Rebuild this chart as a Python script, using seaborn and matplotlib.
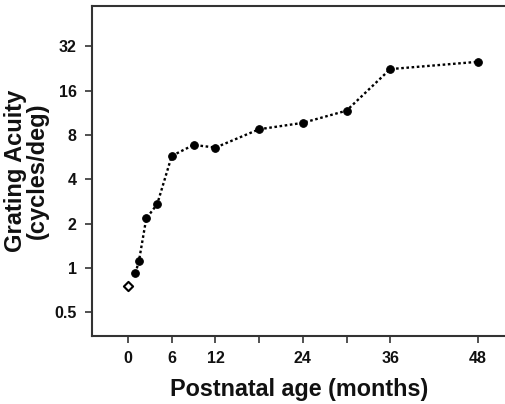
import matplotlib
matplotlib.use("Agg")
import matplotlib.pyplot as plt
import seaborn as sns
import pandas as pd
from matplotlib.ticker import FixedLocator, FixedFormatter, NullLocator

sns.set_theme(style="ticks")
plt.rcParams['font.family'] = ['Liberation Sans', 'DejaVu Sans']

# data
age_months = [1, 1.5, 2.5, 4, 6, 9, 12, 18, 24, 30, 36, 48]
acuity = [0.92, 1.12, 2.17, 2.71, 5.77, 6.85, 6.57, 8.75, 9.67, 11.7, 22.4, 25.1]
newborn_age = [0]
newborn_acuity = [0.75]
x_ticks = [0, 6, 12, 18, 24, 30, 36, 48]
x_tick_labels = ["0", "6", "12", "", "24", "", "36", "48"]
y_ticks = [0.5, 1, 2, 4, 8, 16, 32]
y_tick_labels = ["0.5", "1", "2", "4", "8", "16", "32"]

df = pd.DataFrame({"age": age_months, "acuity": acuity})
df0 = pd.DataFrame({"age": newborn_age, "acuity": newborn_acuity})

fig = plt.figure(figsize=(5.06, 4.04), dpi=100)
ax = fig.add_axes([0.182, 0.168, 0.818, 0.817])

sns.lineplot(data=df, x="age", y="acuity", ax=ax, color="black",
             linestyle=(0, (1.1, 1.1)), linewidth=1.7, marker="o",
             markersize=5.5, markeredgecolor="black", markerfacecolor="black")
sns.scatterplot(data=df0, x="age", y="acuity", ax=ax, marker="D", s=22,
                facecolor="white", edgecolor="black", linewidth=1.5, zorder=5)

ax.set_yscale("log", base=2)
ax.set_xlim(-4.94, 51.9)
ax.set_ylim(0.345, 60)
ax.yaxis.set_major_locator(FixedLocator(y_ticks))
ax.yaxis.set_major_formatter(FixedFormatter(y_tick_labels))
ax.yaxis.set_minor_locator(NullLocator())
ax.xaxis.set_major_locator(FixedLocator(x_ticks))
ax.xaxis.set_major_formatter(FixedFormatter(x_tick_labels))

for lab in ax.get_xticklabels() + ax.get_yticklabels():
    lab.set_fontweight("bold")
    lab.set_fontsize(11.5)
    lab.set_color("#111111")
ax.tick_params(axis="both", direction="out", length=5, width=1.2, color="#333333", pad=6)

ax.set_xlabel("Postnatal age (months)", fontsize=16.8, fontweight="bold",
              labelpad=8, color="#111111")
ax.set_ylabel("Grating Acuity\n(cycles/deg)", fontsize=17, fontweight="bold",
              labelpad=4, linespacing=0.92, color="#111111")

for s in ["left", "top", "bottom"]:
    ax.spines[s].set_linewidth(1.5)
    ax.spines[s].set_color("#333333")
ax.spines["right"].set_visible(False)

fig.savefig("out.png", dpi=100)
